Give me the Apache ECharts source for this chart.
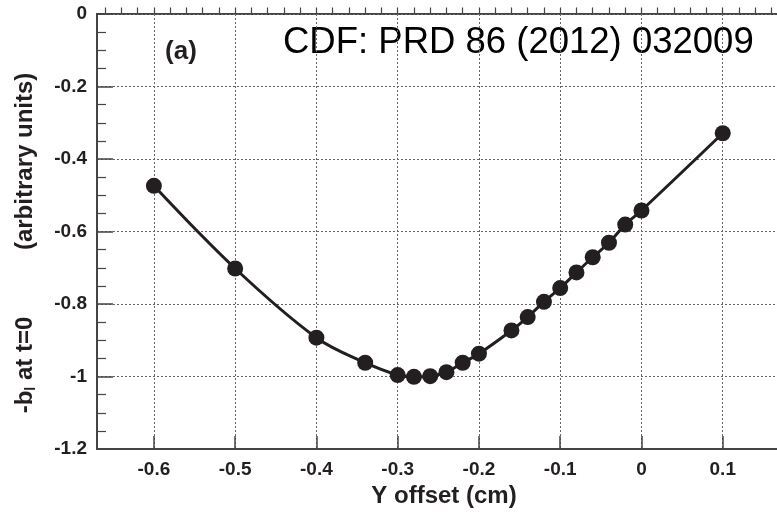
<!DOCTYPE html>
<html>
<head>
<meta charset="utf-8">
<script src="https://cdn.jsdelivr.net/npm/echarts@6/dist/echarts.min.js"></script>
<style>
  html, body { margin: 0; padding: 0; background: #fff; }
  #chart { width: 777px; height: 513px; }
</style>
</head>
<body>
<div id="chart"></div>
<script>
// Y offset of the beam (cm)
const yOffset = [-0.6, -0.5, -0.4, -0.34, -0.30, -0.28, -0.26, -0.24, -0.22, -0.20,
                 -0.16, -0.14, -0.12, -0.10, -0.08, -0.06, -0.04, -0.02, 0.0, 0.1];
// -b_l at t=0 (arbitrary units)
const bValue = [-0.474, -0.702, -0.893, -0.962, -0.996, -1.001, -0.999, -0.988, -0.962, -0.937,
                -0.873, -0.836, -0.794, -0.756, -0.713, -0.671, -0.631, -0.581, -0.542, -0.329];

// labelled x ticks
const xMajorTicks = [-0.6, -0.5, -0.4, -0.3, -0.2, -0.1, 0, 0.1];
// unlabelled x ticks every 0.02
const xMinorTicks = [];
for (let k = -33; k <= 10; k++) xMinorTicks.push(+(k * 0.02).toFixed(2));

const X_MIN = -0.67, X_MAX = 0.2;
const FONT = '"Liberation Sans", Arial, Helvetica, sans-serif';
const INK = '#231f20';

const chart = echarts.init(document.getElementById('chart'), null, { renderer: 'canvas' });

chart.setOption({
  animation: false,
  backgroundColor: '#fff',
  grid: {
    left: 97, top: 14, width: 707, height: 435,
    outerBoundsMode: 'none', containLabel: false,
    show: true, borderColor: '#444', borderWidth: 2, backgroundColor: 'transparent'
  },
  xAxis: [
    {
      type: 'value', min: X_MIN, max: X_MAX, position: 'bottom',
      axisLine: { show: true, onZero: false, lineStyle: { color: '#444', width: 2 } },
      axisTick: { show: true, inside: true, length: 13, customValues: xMajorTicks,
                  lineStyle: { color: '#444', width: 1.5 } },
      axisLabel: { customValues: xMajorTicks, margin: 11, color: INK,
                   fontFamily: FONT, fontWeight: 'bold', fontSize: 19,
                   formatter: v => String(+v.toFixed(2)) },
      splitLine: { show: true, lineStyle: { color: '#666', type: [2, 2], width: 1 } }
    },
    {
      type: 'value', min: X_MIN, max: X_MAX, position: 'bottom',
      axisLine: { show: false },
      axisTick: { show: true, inside: true, length: 6.5, customValues: xMinorTicks,
                  lineStyle: { color: '#444', width: 1.2 } },
      axisLabel: { show: false },
      splitLine: { show: false }
    }
  ],
  yAxis: {
    type: 'value', min: -1.2, max: 0, interval: 0.2,
    axisLine: { show: true, onZero: false, lineStyle: { color: '#444', width: 2 } },
    axisTick: { show: true, inside: true, length: 16, lineStyle: { color: '#444', width: 1.5 } },
    minorTick: { show: true, splitNumber: 4, length: 9, lineStyle: { color: '#444', width: 1.2 } },
    axisLabel: { margin: 10, color: INK, fontFamily: FONT, fontWeight: 'bold', fontSize: 19,
                 formatter: v => String(+v.toFixed(2)) },
    splitLine: { show: true, lineStyle: { color: '#666', type: [2, 2], width: 1 } }
  },
  series: [{
    type: 'line',
    xAxisIndex: 0,
    data: yOffset.map((x, i) => [x, bValue[i]]),
    smooth: 0.35,
    symbol: 'circle',
    symbolSize: 16,
    lineStyle: { color: INK, width: 3 },
    itemStyle: { color: INK },
    z: 5
  }],
  graphic: [
    {
      type: 'text', x: 181, y: 52,
      style: { text: '(a)', font: 'bold 26px ' + FONT, fill: INK,
               align: 'center', verticalAlign: 'middle' }
    },
    {
      type: 'text', x: 283, y: 43,
      style: { text: 'CDF: PRD 86 (2012) 032009', font: '36.5px ' + FONT, fill: '#000',
               align: 'left', verticalAlign: 'middle' }
    },
    {
      type: 'text', x: 444, y: 496,
      style: { text: 'Y offset (cm)', font: 'bold 24px ' + FONT, fill: INK,
               align: 'center', verticalAlign: 'middle' }
    },
    {
      type: 'text', x: 25, y: 243, rotation: Math.PI / 2,
      style: {
        text: '{m|-b}{s|l}{m| at t=0          (arbitrary units)}',
        align: 'center', verticalAlign: 'middle',
        rich: {
          m: { fontFamily: FONT, fontWeight: 'bold', fontSize: 24, fill: INK, lineHeight: 26 },
          s: { fontFamily: FONT, fontWeight: 'bold', fontSize: 14, fill: INK,
               lineHeight: 26, verticalAlign: 'bottom', padding: [8, 0, 0, 0] }
        }
      }
    }
  ]
});
</script>
</body>
</html>
